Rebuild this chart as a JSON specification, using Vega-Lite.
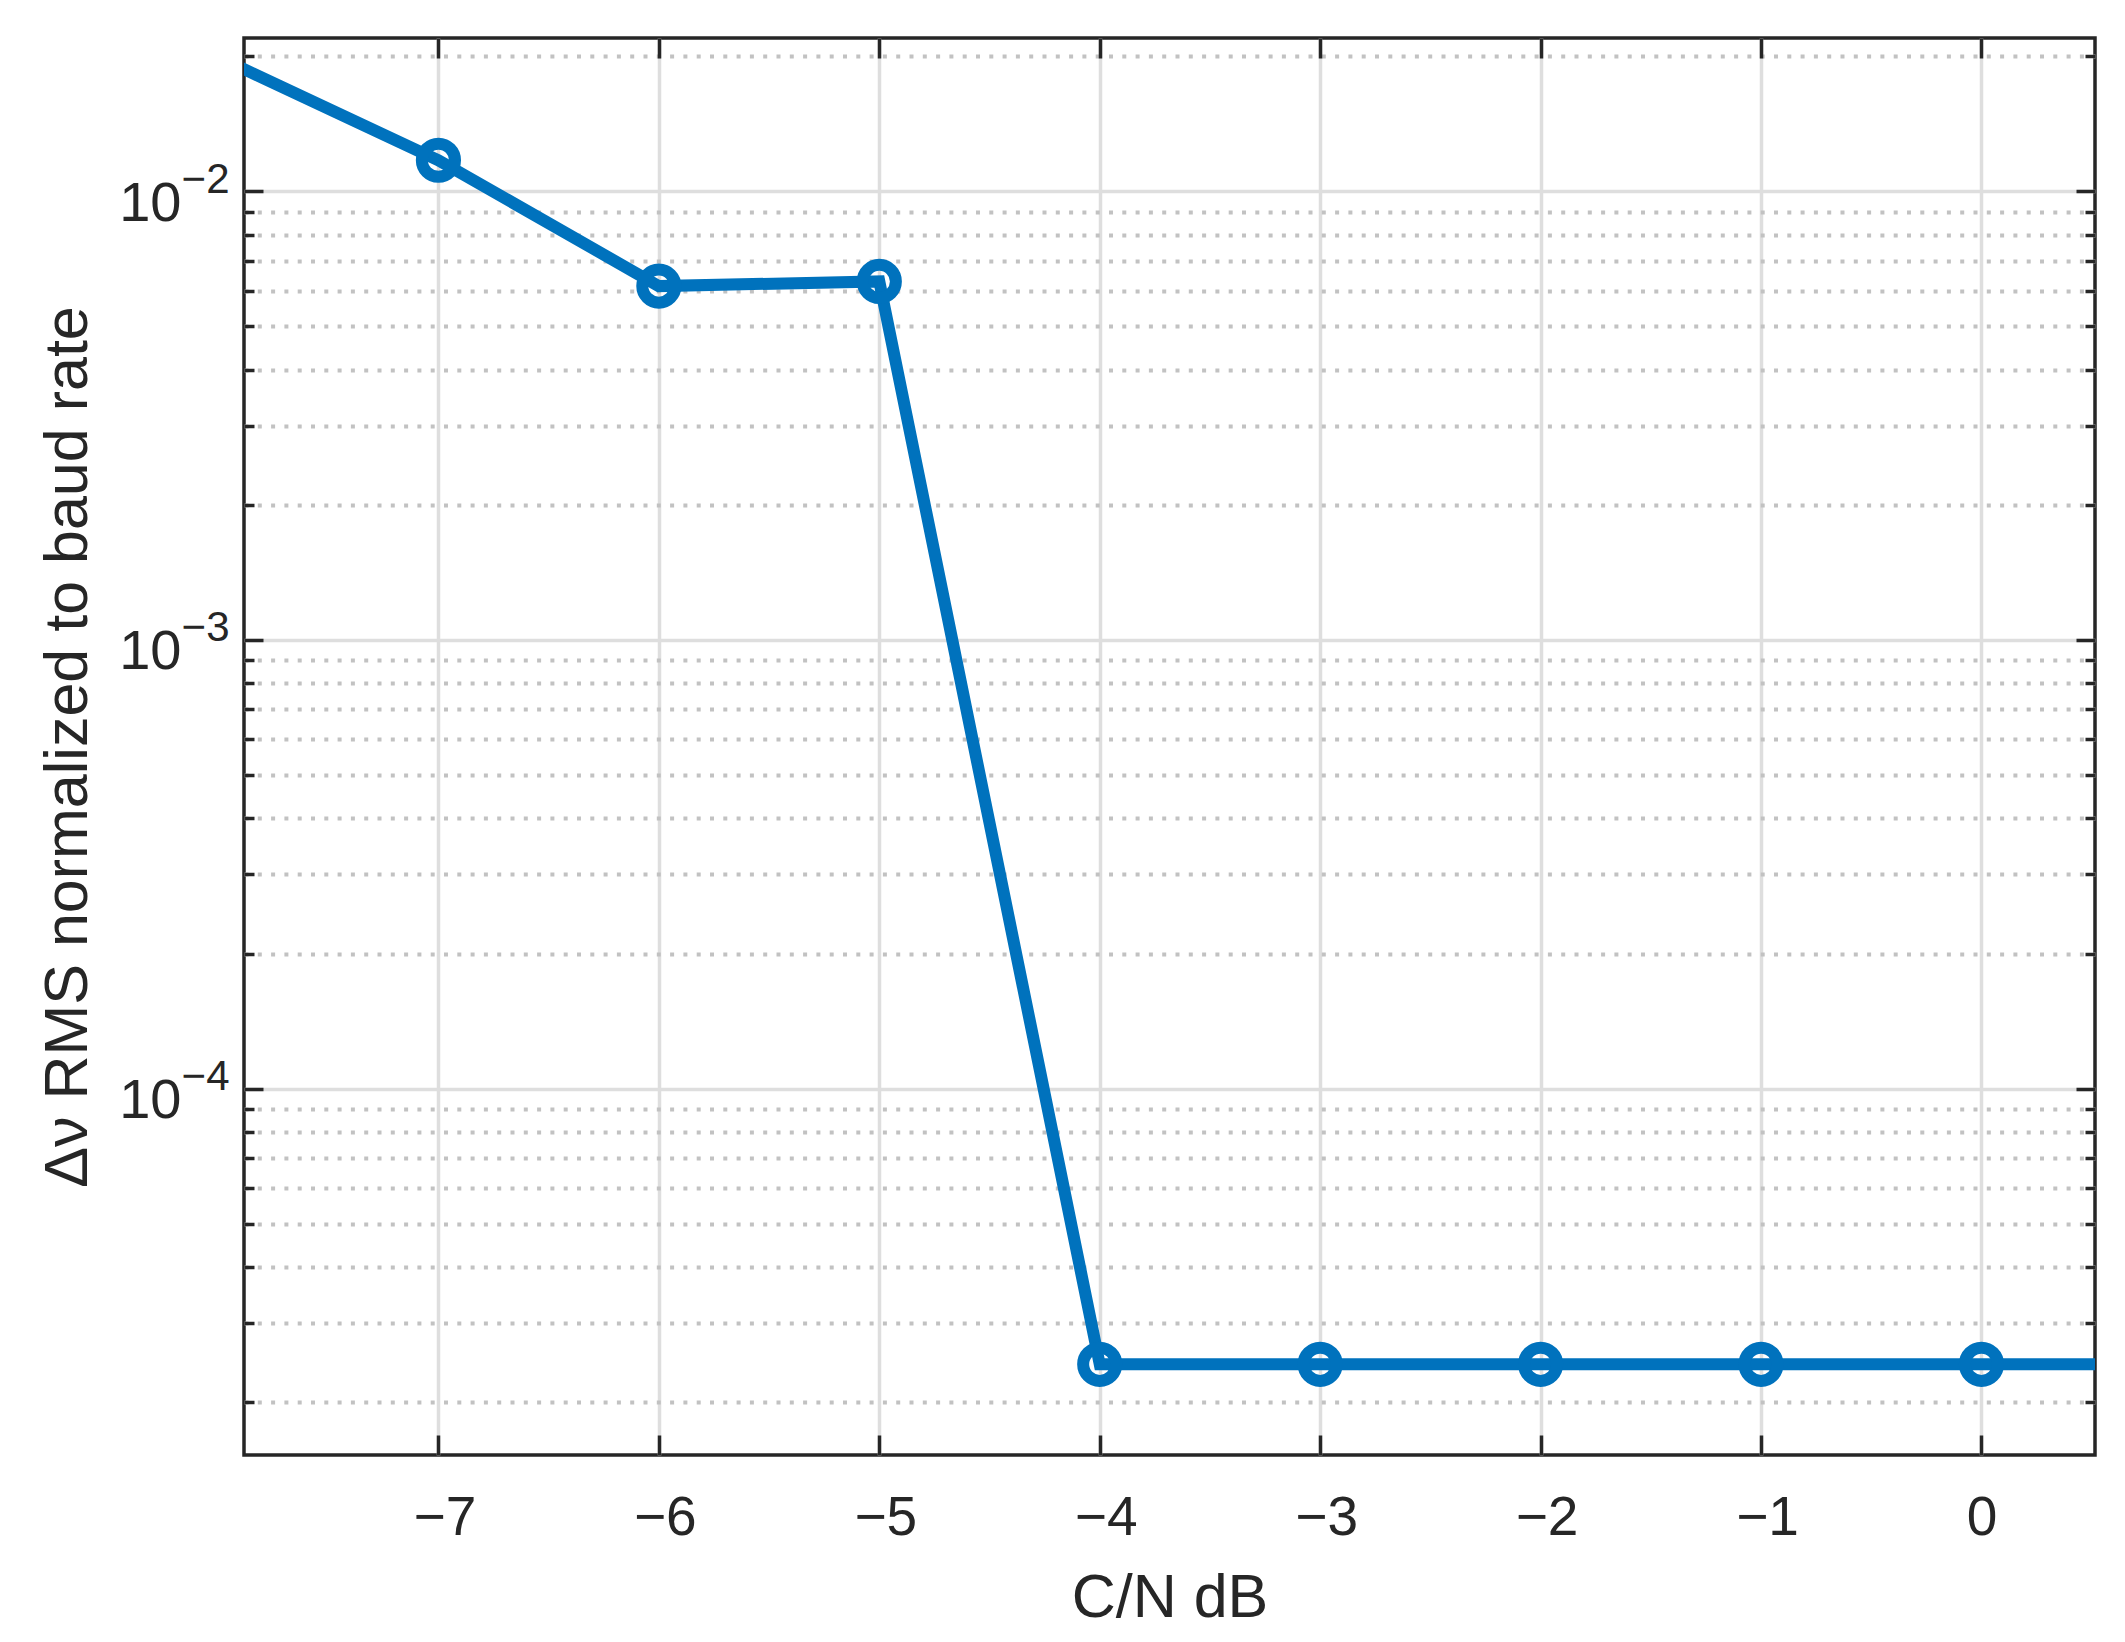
{
  "$schema": "https://vega.github.io/schema/vega-lite/v6.json",
  "width": 1851,
  "height": 1417,
  "autosize": {"type": "none"},
  "padding": {"left": 244, "top": 38, "right": 30, "bottom": 187},
  "background": "white",
  "config": {
    "view": {"stroke": "#262626", "strokeWidth": 3.5, "fill": "white"},
    "font": "Liberation Sans",
    "axis": {
      "labelFont": "Liberation Sans",
      "titleFont": "Liberation Sans",
      "labelColor": "#262626",
      "titleColor": "#262626",
      "tickColor": "#262626",
      "domain": false,
      "tickWidth": 3.5,
      "gridWidth": 3.5,
      "titleFontWeight": "normal",
      "labelOverlap": false,
      "labelFlush": false
    }
  },
  "datasets": {
    "curve": [
      {"cn": -8, "v": 0.0199},
      {"cn": -7, "v": 0.01171},
      {"cn": -6, "v": 0.00614},
      {"cn": -5, "v": 0.00629},
      {"cn": -4, "v": 0.0000243},
      {"cn": -3, "v": 0.0000243},
      {"cn": -2, "v": 0.0000243},
      {"cn": -1, "v": 0.0000243},
      {"cn": 0, "v": 0.0000243},
      {"cn": 1, "v": 0.0000243}
    ],
    "markers": [
      {"cn": -7, "v": 0.01171},
      {"cn": -6, "v": 0.00614},
      {"cn": -5, "v": 0.00629},
      {"cn": -4, "v": 0.0000243},
      {"cn": -3, "v": 0.0000243},
      {"cn": -2, "v": 0.0000243},
      {"cn": -1, "v": 0.0000243},
      {"cn": 0, "v": 0.0000243}
    ]
  },
  "layer": [
    {
      "data": {"name": "curve"},
      "mark": {"type": "line", "color": "#0072BD", "strokeWidth": 12, "clip": true},
      "encoding": {
        "x": {"field": "cn", "type": "quantitative",
          "scale": {"domain": [-7.882, 0.515], "nice": false, "zero": false},
          "axis": {"orient": "bottom", "values": [-7, -6, -5, -4, -3, -2, -1, 0],
            "labelExpr": "datum.value < 0 ? '\u2212' + (-datum.value) : '0'",
            "labelFontSize": 55, "labelBaseline": "top", "labelPadding": 36,
            "labelOffset": {"condition": {"test": "datum.value < 0", "value": 6}, "value": 0},
            "ticks": false, "grid": true, "gridColor": "#dedede",
            "title": "C/N dB", "titleFontSize": 61, "titlePadding": 23}},
        "y": {"field": "v", "type": "quantitative",
          "scale": {"type": "log", "domain": [0.00001526, 0.02193], "nice": false},
          "axis": {"orient": "left", "values": [0.01, 0.001, 0.0001],
            "labelExpr": "'10'", "labelFontSize": 56, "labelAlign": "right",
            "labelBaseline": "middle", "labelPadding": 63, "labelOffset": 12,
            "ticks": false, "grid": true, "gridColor": "#dedede",
            "title": "\u0394\u03bd RMS normalized to baud rate", "titleFontSize": 61, "titlePadding": 19}}
      }
    },
    {
      "data": {"name": "markers"},
      "mark": {"type": "point", "shape": "circle", "filled": false, "stroke": "#0072BD", "strokeWidth": 12, "size": 1100, "opacity": 1},
      "encoding": {
        "x": {"field": "cn", "type": "quantitative",
          "scale": {"domain": [-7.882, 0.515], "nice": false, "zero": false},
          "axis": {"orient": "bottom", "values": [-7, -6, -5, -4, -3, -2, -1, 0],
            "labels": false, "ticks": true, "tickSize": -20, "grid": false, "title": null}},
        "y": {"field": "v", "type": "quantitative",
          "scale": {"type": "log", "domain": [0.00001526, 0.02193], "nice": false},
          "axis": {"orient": "left", "values": [0.01, 0.001, 0.0001],
            "labelExpr": "'\u2212' + round(-log(datum.value) / LN10)",
            "labelFontSize": 42, "labelAlign": "right", "labelBaseline": "middle",
            "labelPadding": 15, "labelOffset": -12, "ticks": false, "grid": false, "title": null}}
      }
    },
    {
      "data": {"name": "markers"},
      "mark": {"type": "point", "opacity": 0},
      "encoding": {
        "x": {"field": "cn", "type": "quantitative",
          "scale": {"domain": [-7.882, 0.515], "nice": false, "zero": false},
          "axis": {"orient": "top", "values": [-7, -6, -5, -4, -3, -2, -1, 0],
            "labels": false, "ticks": true, "tickSize": -20, "grid": false, "title": null}},
        "y": {"field": "v", "type": "quantitative",
          "scale": {"type": "log", "domain": [0.00001526, 0.02193], "nice": false},
          "axis": {"orient": "left",
            "values": [0.00002, 0.00003, 0.00004, 0.00005, 0.00006, 0.00007, 0.00008, 0.00009, 0.0002, 0.0003, 0.0004, 0.0005, 0.0006, 0.0007, 0.0008, 0.0009, 0.002, 0.003, 0.004, 0.005, 0.006, 0.007, 0.008, 0.009, 0.02],
            "labels": false, "ticks": true, "tickSize": -10, "grid": true,
            "gridColor": "#c2c2c2", "gridWidth": 4, "gridDash": [4, 9.3], "title": null}}
      }
    },
    {
      "data": {"name": "markers"},
      "mark": {"type": "point", "opacity": 0},
      "encoding": {
        "x": {"field": "cn", "type": "quantitative",
          "scale": {"domain": [-7.882, 0.515], "nice": false, "zero": false}, "axis": null},
        "y": {"field": "v", "type": "quantitative",
          "scale": {"type": "log", "domain": [0.00001526, 0.02193], "nice": false},
          "axis": {"orient": "left", "values": [0.01, 0.001, 0.0001],
            "labels": false, "ticks": true, "tickSize": -19, "grid": false, "title": null}}
      }
    },
    {
      "data": {"name": "markers"},
      "mark": {"type": "point", "opacity": 0},
      "encoding": {
        "x": {"field": "cn", "type": "quantitative",
          "scale": {"domain": [-7.882, 0.515], "nice": false, "zero": false}, "axis": null},
        "y": {"field": "v", "type": "quantitative",
          "scale": {"type": "log", "domain": [0.00001526, 0.02193], "nice": false},
          "axis": {"orient": "right", "values": [0.01, 0.001, 0.0001],
            "labels": false, "ticks": true, "tickSize": -19, "grid": false, "title": null}}
      }
    },
    {
      "data": {"name": "markers"},
      "mark": {"type": "point", "opacity": 0},
      "encoding": {
        "x": {"field": "cn", "type": "quantitative",
          "scale": {"domain": [-7.882, 0.515], "nice": false, "zero": false}, "axis": null},
        "y": {"field": "v", "type": "quantitative",
          "scale": {"type": "log", "domain": [0.00001526, 0.02193], "nice": false},
          "axis": {"orient": "right",
            "values": [0.00002, 0.00003, 0.00004, 0.00005, 0.00006, 0.00007, 0.00008, 0.00009, 0.0002, 0.0003, 0.0004, 0.0005, 0.0006, 0.0007, 0.0008, 0.0009, 0.002, 0.003, 0.004, 0.005, 0.006, 0.007, 0.008, 0.009, 0.02],
            "labels": false, "ticks": true, "tickSize": -10, "grid": false, "title": null}}
      }
    }
  ],
  "resolve": {"axis": {"x": "independent", "y": "independent"}}
}
